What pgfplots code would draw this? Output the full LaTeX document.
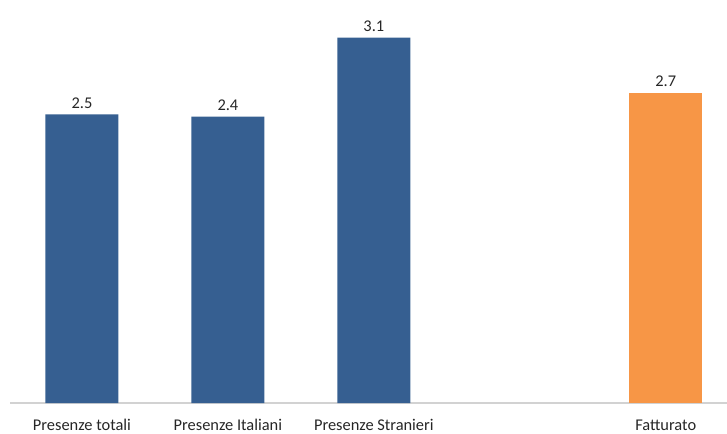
\documentclass[border=0pt]{standalone}
\usepackage{pgfplots}
\pgfplotsset{compat=1.18}
\usepackage{pgfplotstable}
\usepackage{fontspec}
\setmainfont{Carlito}
\definecolor{barblue}{RGB}{54,95,145}
\definecolor{barorange}{RGB}{247,150,70}
\definecolor{axgray}{RGB}{210,210,210}
\pgfplotstableread{
x y label
0 2.45 2.5
1 2.43 2.4
2 3.10 3.1
}\bluedata
\pgfplotstableread{
x y label
4 2.63 2.7
}\orangedata
\begin{document}
\begin{tikzpicture}
\begin{axis}[
  scale only axis,
  width=537.75pt, height=302.25pt,
  xmin=-0.493, xmax=4.42,
  ymin=0, ymax=3.42,
  axis x line*=bottom,
  axis y line=none,
  x axis line style={draw=axgray, line width=0.9pt, -},
  xtick={0,1,2,4},
  xticklabels={Presenze totali, Presenze Italiani, Presenze Stranieri, Fatturato},
  xtick style={draw=none},
  ticklabel style={font=\fontsize{12.3pt}{14pt}\selectfont, text=black!85, inner sep=0pt, outer sep=0pt},
  xticklabel style={anchor=base, yshift=-16pt},
  ybar, bar width=0.5,
  bar shift=0pt,
  nodes near coords,
  point meta=explicit symbolic,
  every node near coord/.append style={font=\fontsize{12.3pt}{14pt}\selectfont, text=black!85, yshift=1pt},
  clip=false,
]
\addplot[fill=barblue, draw=none] table[x=x, y=y, meta=label] {\bluedata};
\addplot[fill=barorange, draw=none] table[x=x, y=y, meta=label] {\orangedata};
\coordinate (bl) at (rel axis cs:0,0);
\end{axis}
\pgfresetboundingbox
\path (bl) ++(-7.5pt,-22.5pt) rectangle ++(545.25pt,324.75pt);
\end{tikzpicture}
\end{document}
